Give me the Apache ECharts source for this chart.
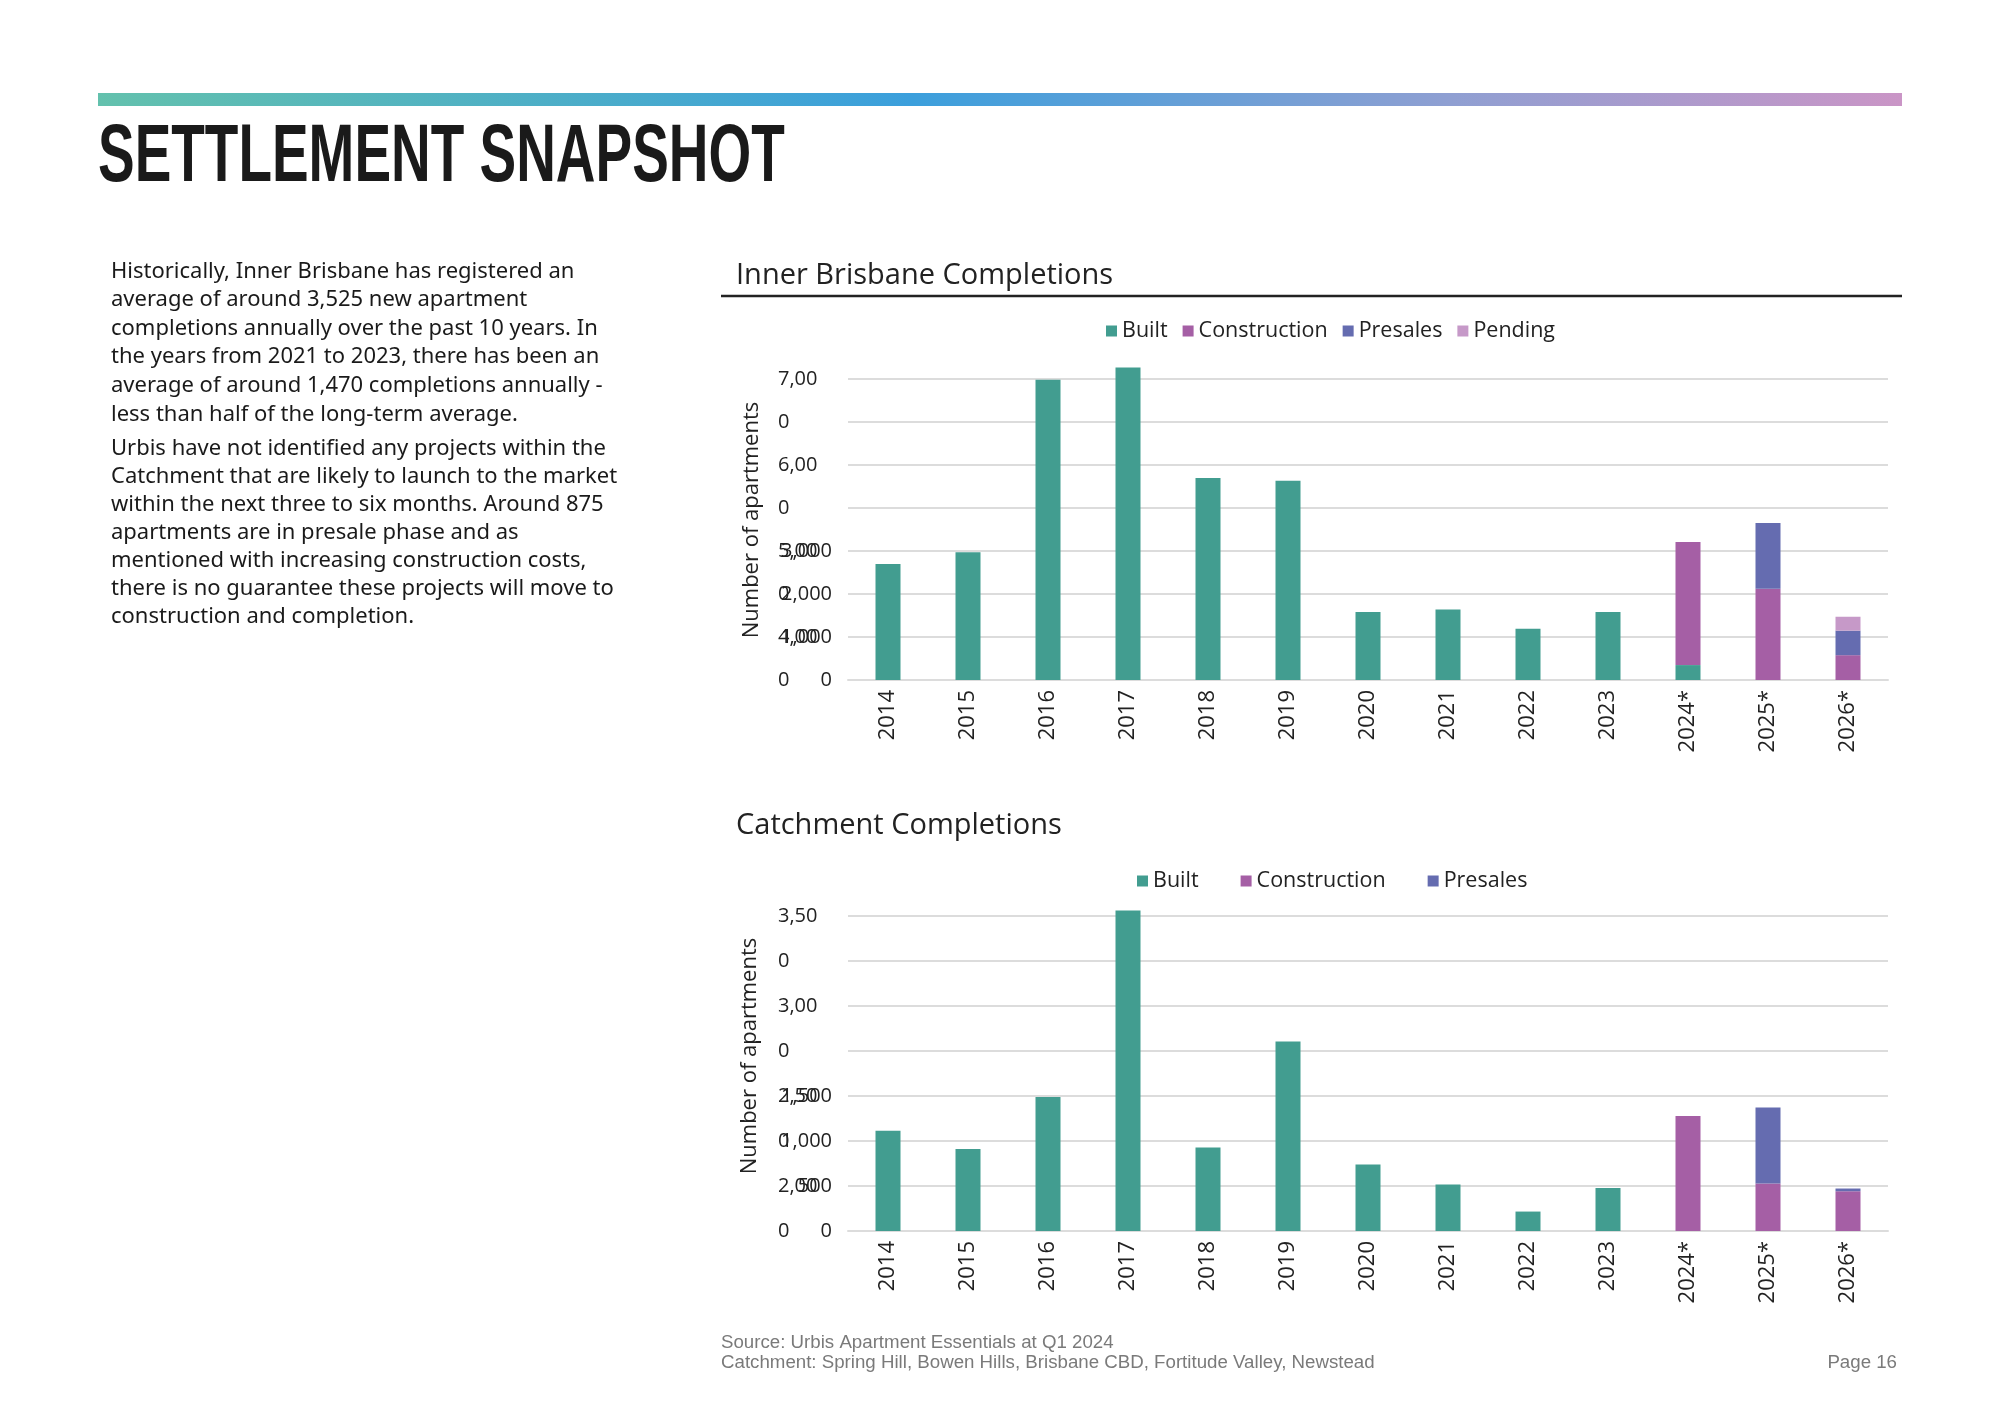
<!DOCTYPE html>
<html>
<head>
<meta charset="utf-8">
<script src="https://cdn.jsdelivr.net/npm/echarts@6/dist/echarts.min.js"></script>
<style>
  html, body { margin: 0; padding: 0; background: #ffffff; }
  #chart { width: 2000px; height: 1414px; }
</style>
</head>
<body>
<div id="chart"></div>
<script>
// ---------- data ----------
const years = ['2014','2015','2016','2017','2018','2019','2020','2021','2022','2023','2024*','2025*','2026*'];

const innerBuilt        = [2695, 2972, 6985, 7270, 4700, 4635, 1580, 1640, 1190, 1580, 347, 0, 0];
const innerConstruction = [0, 0, 0, 0, 0, 0, 0, 0, 0, 0, 2863, 2125, 577];
const innerPresales     = [0, 0, 0, 0, 0, 0, 0, 0, 0, 0, 0, 1524, 571];
const innerPending      = [0, 0, 0, 0, 0, 0, 0, 0, 0, 0, 0, 0, 323];

const catchBuilt        = [1113, 910, 1489, 3560, 929, 2105, 739, 517, 216, 479, 0, 0, 0];
const catchConstruction = [0, 0, 0, 0, 0, 0, 0, 0, 0, 0, 1277, 528, 442];
const catchPresales     = [0, 0, 0, 0, 0, 0, 0, 0, 0, 0, 0, 845, 30];

// tick labels as printed in the reference (two overlapping label layers)
const innerTickLabelsA = ['0', '4,00', '0', '5,00', '0', '6,00', '0', '7,00'];
const innerTickLabelsB = ['0', '1,000', '2,000', '3,000', '', '', '', ''];
const catchTickLabelsA = ['0', '2,00', '0', '2,50', '0', '3,00', '0', '3,50'];
const catchTickLabelsB = ['0', '500', '1,000', '1,500', '', '', '', ''];

const legendInner = ['Built', 'Construction', 'Presales', 'Pending'];
const legendCatch = ['Built', 'Construction', 'Presales'];

const yAxisName = 'Number of apartments';

const paragraph1 = [
  'Historically, Inner Brisbane has registered an',
  'average of around 3,525 new apartment',
  'completions annually over the past 10 years. In',
  'the years from 2021 to 2023, there has been an',
  'average of around 1,470 completions annually -',
  'less than half of the long-term average.'
];
const paragraph2 = [
  'Urbis have not identified any projects within the',
  'Catchment that are likely to launch to the market',
  'within the next three to six months. Around 875',
  'apartments are in presale phase and as',
  'mentioned with increasing construction costs,',
  'there is no guarantee these projects will move to',
  'construction and completion.'
];

// ---------- styles ----------
const C_BUILT = '#429d90';
const C_CONS = '#a55fa5';
const C_PRES = '#656cb0';
const C_PEND = '#c699c8';
const FONT = '"Open Sans", "Noto Sans", sans-serif';
const GRID_COLOR = '#dcdcdc';

const chart = echarts.init(document.getElementById('chart'), null, { renderer: 'canvas' });

function yAxisMain(grid, max, interval, labels) {
  return {
    type: 'value', gridIndex: grid, min: 0, max: max, interval: interval,
    position: 'left',
    axisLine: { show: false }, axisTick: { show: false },
    splitLine: { show: true, lineStyle: { color: GRID_COLOR, width: 2 } },
    axisLabel: {
      align: 'left', margin: 70, fontFamily: FONT, fontSize: 20, color: '#222',
      formatter: function (v) { return labels[Math.round(v / interval)] || ''; }
    }
  };
}
function yAxisOverlay(grid, max, interval, labels) {
  return {
    type: 'value', gridIndex: grid, min: 0, max: max, interval: interval,
    position: 'left',
    axisLine: { show: false }, axisTick: { show: false }, splitLine: { show: false },
    axisLabel: {
      align: 'right', margin: 16, fontFamily: FONT, fontSize: 20, color: '#222',
      formatter: function (v) { return labels[Math.round(v / interval)] || ''; }
    }
  };
}
function xAxis(grid) {
  return {
    type: 'category', gridIndex: grid, data: years,
    axisLine: { show: true, lineStyle: { color: GRID_COLOR, width: 2 } },
    axisTick: { show: false },
    axisLabel: { rotate: 90, margin: 10, fontFamily: FONT, fontSize: 22, color: '#222', interval: 0 }
  };
}
function bar(name, data, color, stack, xi, yi) {
  return {
    type: 'bar', name: name, data: data, stack: stack,
    xAxisIndex: xi, yAxisIndex: yi, barWidth: 25, clip: false,
    itemStyle: { color: color }, emphasis: { disabled: true }
  };
}
function axisNameText(x, y) {
  return { type: 'text', x: x, y: y, rotation: Math.PI / 2, silent: true,
    style: { text: yAxisName, fontFamily: FONT, fontSize: 22, fill: '#222',
      align: 'center', verticalAlign: 'middle' } };
}

const option = {
  animation: false,
  backgroundColor: '#ffffff',
  title: [
    { text: 'Inner Brisbane Completions', left: 731, top: 256,
      textStyle: { fontFamily: FONT, fontSize: 29, fontWeight: 'normal', color: '#222' } },
    { text: 'Catchment Completions', left: 731, top: 806,
      textStyle: { fontFamily: FONT, fontSize: 29, fontWeight: 'normal', color: '#222' } }
  ],
  legend: [
    { data: legendInner, left: 1101, top: 315, icon: 'rect', itemWidth: 11, itemHeight: 11,
      itemGap: 15, textStyle: { fontFamily: FONT, fontSize: 21.5, color: '#222' }, selectedMode: false },
    { data: legendCatch, left: 1132, top: 865, icon: 'rect', itemWidth: 11, itemHeight: 11,
      itemGap: 42, textStyle: { fontFamily: FONT, fontSize: 21.5, color: '#222' }, selectedMode: false }
  ],
  grid: [
    { left: 848, right: 112, top: 379, height: 301 },
    { left: 848, right: 112, top: 916, height: 315 }
  ],
  xAxis: [xAxis(0), xAxis(1)],
  yAxis: [
    yAxisMain(0, 7000, 1000, innerTickLabelsA),
    yAxisOverlay(0, 7000, 1000, innerTickLabelsB),
    yAxisMain(1, 3500, 500, catchTickLabelsA),
    yAxisOverlay(1, 3500, 500, catchTickLabelsB)
  ],
  series: [
    bar('Built', innerBuilt, C_BUILT, 'inner', 0, 0),
    bar('Construction', innerConstruction, C_CONS, 'inner', 0, 0),
    bar('Presales', innerPresales, C_PRES, 'inner', 0, 0),
    bar('Pending', innerPending, C_PEND, 'inner', 0, 0),
    bar('Built', catchBuilt, C_BUILT, 'catch', 1, 2),
    bar('Construction', catchConstruction, C_CONS, 'catch', 1, 2),
    bar('Presales', catchPresales, C_PRES, 'catch', 1, 2)
  ],
  graphic: [
    { type: 'rect', shape: { x: 98, y: 93, width: 1804, height: 13 }, silent: true,
      style: { fill: new echarts.graphic.LinearGradient(0, 0, 1, 0, [
        { offset: 0, color: '#63c1ad' },
        { offset: 0.45, color: '#3b9fdc' },
        { offset: 0.75, color: '#8f9fd2' },
        { offset: 1, color: '#ca95c6' }
      ]) } },
    { type: 'text', x: 98, y: 158, scaleX: 0.67, silent: true,
      style: { text: 'SETTLEMENT SNAPSHOT', fontFamily: '"Liberation Sans Narrow", sans-serif',
        fontWeight: 'bold', fontSize: 82, fill: '#1a1a1a', verticalAlign: 'middle' } },
    { type: 'line', shape: { x1: 721, y1: 296, x2: 1902, y2: 296 }, silent: true,
      style: { stroke: '#222', lineWidth: 2.5 } },
    axisNameText(752, 520),
    axisNameText(750, 1056),
    { type: 'text', x: 111, y: 257, silent: true,
      style: { text: paragraph1.join('\n'), fontFamily: '"Noto Sans", sans-serif', fontSize: 22,
        lineHeight: 28.6, fill: '#1a1a1a', verticalAlign: 'top' } },
    { type: 'text', x: 111, y: 435, silent: true,
      style: { text: paragraph2.join('\n'), fontFamily: '"Noto Sans", sans-serif', fontSize: 22,
        lineHeight: 28, fill: '#1a1a1a', verticalAlign: 'top' } },
    { type: 'text', x: 721, y: 1333, silent: true,
      style: { text: 'Source: Urbis Apartment Essentials at Q1 2024\nCatchment: Spring Hill, Bowen Hills, Brisbane CBD, Fortitude Valley, Newstead',
        fontFamily: '"Liberation Sans Narrow", sans-serif', fontSize: 18.7, lineHeight: 20,
        fill: '#7a7a7a', verticalAlign: 'top' } },
    { type: 'text', x: 1897, y: 1353, silent: true,
      style: { text: 'Page 16', fontFamily: '"Liberation Sans Narrow", sans-serif', fontSize: 18.7,
        fill: '#7a7a7a', align: 'right', verticalAlign: 'top' } }
  ]
};
chart.setOption(option);
</script>
</body>
</html>
